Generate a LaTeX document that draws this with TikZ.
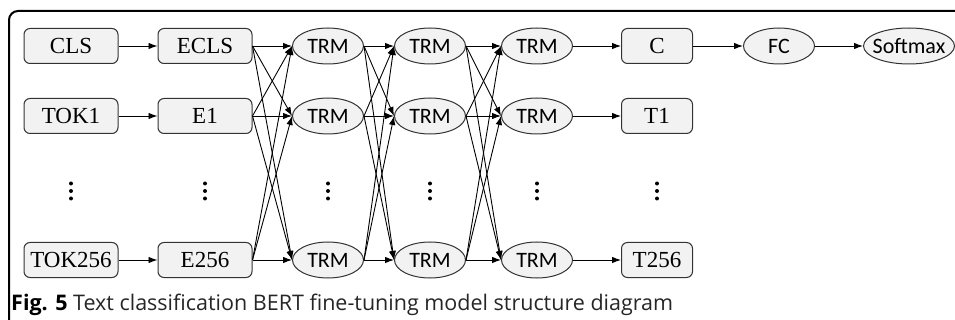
\documentclass[tikz,border=0pt]{standalone}
\usepackage{fontspec}
\setmainfont{Liberation Serif}
\newfontfamily\trmfont{Carlito}
\newfontfamily\capfont{Open Sans}
\usetikzlibrary{shapes.geometric, arrows.meta}

\begin{document}
\begin{tikzpicture}[x=1pt, y=-1pt,
        blk/.style={draw=black!80, line width=1pt, fill=black!5, rounded corners=6pt, minimum width=94pt,
            minimum height=35pt, inner sep=0pt, font=\fontsize{23}{24}\selectfont},
        trm/.style={draw=black!80, line width=1pt, fill=black!5, ellipse, minimum width=71pt, minimum height=36pt,
            inner sep=0pt, font=\trmfont\fontsize{22}{24}\selectfont},
        arr/.style={-{Latex[length=9pt, width=6.5pt]}, line width=0.9pt},
        dots/.style={minimum width=6pt, minimum height=20pt, inner sep=0pt,
            path picture={\foreach \d in {-7.5, 0, 7.5}
                \fill (path picture bounding box.center) ++(0,\d) circle (2pt);}}
    ]
        \useasboundingbox (0,0) rectangle (955,320);
        % Frame of the figure
        \draw[line width=2pt, rounded corners=9pt] (9,340) -- (9,11) -- (975,11);

        % Input tokens
        \node[blk] (tok-cls) at (71,46) {CLS};
        \node[blk] (tok-1) at (71,116) {TOK1};
        \node[blk] (tok-256) at (71,260) {TOK256};

        % Embeddings
        \node[blk] (emb-cls) at (205,46) {ECLS};
        \node[blk] (emb-1) at (205,116) {E1};
        \node[blk] (emb-256) at (205,260) {E256};

        % Transformer layers
        \foreach \l/\x in {trmA/328, trmB/430, trmC/537} {
            \node[trm] (\l-cls) at (\x,46) {TRM};
            \node[trm] (\l-1) at (\x,116) {TRM};
            \node[trm] (\l-256) at (\x,260) {TRM};
        }

        % Outputs
        \node[blk, minimum width=71pt] (out-cls) at (657,46) {C};
        \node[blk, minimum width=71pt] (out-1) at (657,116) {T1};
        \node[blk, minimum width=71pt] (out-256) at (657,260) {T256};
        \node[trm] (fc) at (779,46) {FC};
        \node[trm, minimum width=91pt, inner xsep=-9pt] (softmax) at (909,46) {Softmax};

        % Vertical dots
        \foreach \x [count=\i] in {71, 205, 328, 430, 537, 657}
            \node[dots] (dots-\i) at (\x,191) {};

        % Straight arrows
        \foreach \r in {cls, 1, 256} {
            \draw[arr] (tok-\r) -- (emb-\r);
            \draw[arr] (trmC-\r) -- (out-\r);
        }
        \draw[arr] (out-cls) -- (fc);
        \draw[arr] (fc) -- (softmax);

        % Full connections between layers
        \foreach \a/\b in {emb/trmA, trmA/trmB, trmB/trmC}
            \foreach \r in {cls, 1, 256}
                \foreach \q in {cls, 1, 256}
                    \draw[arr] (\a-\r.east) -- (\b-\q.west);

        % Caption
        \node[anchor=base west, inner sep=0pt, text=black!85,
            font=\capfont\fontsize{21.5}{23}\selectfont] (caption) at (11,310)
            {\textcolor{black}{\textbf{Fig. 5}} Text classification BERT fine-tuning model structure diagram};
\end{tikzpicture}
\end{document}
